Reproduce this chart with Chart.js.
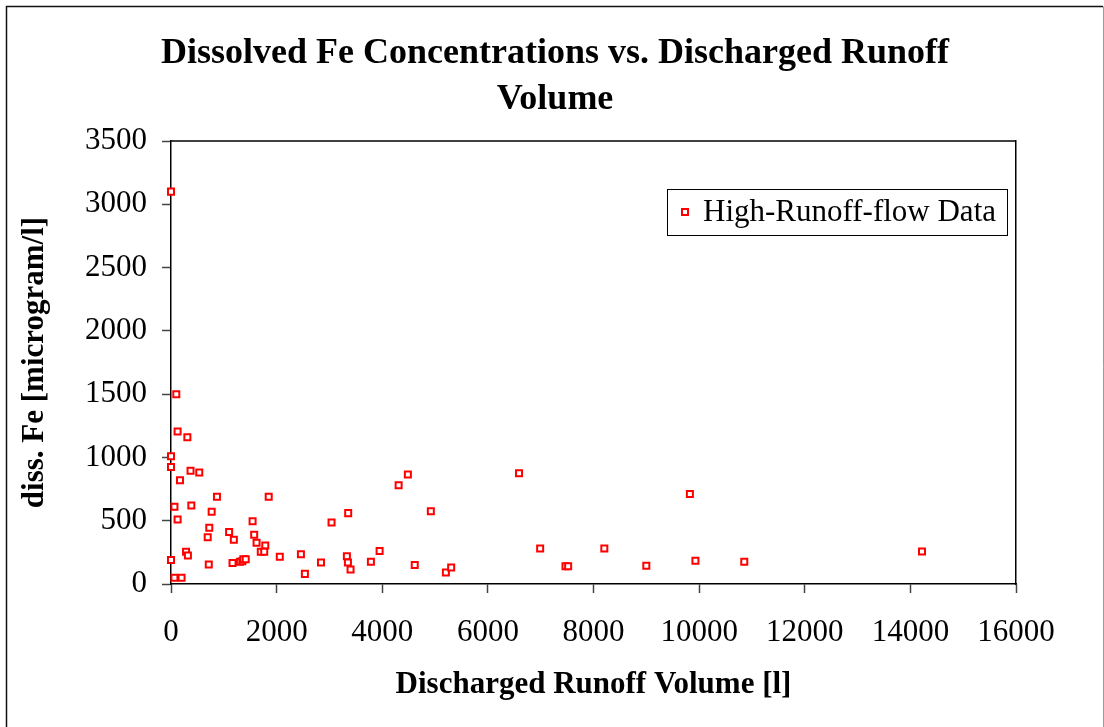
<!DOCTYPE html>
<html>
<head>
<meta charset="utf-8">
<title>Dissolved Fe Concentrations vs. Discharged Runoff Volume</title>
<script src="https://cdn.jsdelivr.net/npm/chart.js@4.4.1/dist/chart.umd.min.js"></script>
<style>
  html, body { margin: 0; padding: 0; background: #fff; }
  #wrap { position: relative; width: 1104px; height: 727px; }
</style>
</head>
<body>
<div id="wrap"><canvas id="feChart"></canvas></div>
<script>
// values
const runoffVolume = [
  0, 100, 125, 310, 0, 0, 370, 535, 170, 870,
  1850, 65, 385, 770, 125, 1545, 3355, 3040, 725, 695,
  1100, 1190, 1575, 1620, 1785, 1700, 1765, 285, 320, 0,
  715, 1165, 1305, 1350, 1370, 1415, 2060, 2460, 2535, 2840,
  3330, 3350, 3400, 3785, 3950, 4310, 65, 200, 4485, 4920,
  4615, 5205, 5305, 6590, 6990, 7470, 7520, 8205, 9000, 9825,
  9930, 10855, 14220
];
const dissFe = [
  3100, 1500, 1205, 1160, 1010, 925, 895, 880, 820, 690,
  690, 610, 620, 570, 510, 495, 560, 485, 445, 370,
  410, 350, 390, 325, 305, 255, 255, 255, 225, 190,
  155, 165, 175, 180, 195, 195, 215, 235, 80, 170,
  220, 170, 115, 175, 260, 780, 50, 50, 865, 575,
  150, 90, 130, 875, 280, 140, 140, 280, 145, 712,
  184, 176, 256
];
const seriesLabel = "High-Runoff-flow Data";
const titleLines = ["Dissolved Fe Concentrations vs. Discharged Runoff", "Volume"];
const xTitle = "Discharged Runoff Volume [l]";
const yTitle = "diss. Fe [microgram/l]";

const serif = "'Liberation Serif', 'Times New Roman', serif";
const red = "#ff0000";

// white background, outer chart frame and top edge of the plot box
const framePlugin = {
  id: "frame",
  beforeDraw(chart) {
    const ctx = chart.ctx;
    ctx.save();
    ctx.fillStyle = "#fff";
    ctx.fillRect(0, 0, chart.width, chart.height);
    ctx.lineWidth = 1.5;
    ctx.strokeStyle = "#111";
    ctx.beginPath();
    ctx.moveTo(6.5, chart.height);
    ctx.lineTo(6.5, 6.5);
    ctx.lineTo(1103, 6.5);
    ctx.stroke();
    ctx.lineWidth = 1;
    ctx.strokeStyle = "#9a9a9a";
    ctx.beginPath();
    ctx.moveTo(1103.5, 6.5);
    ctx.lineTo(1103.5, chart.height);
    ctx.stroke();
    ctx.restore();
  },
  beforeDatasetsDraw(chart) {
    const a = chart.chartArea;
    const ctx = chart.ctx;
    ctx.save();
    ctx.strokeStyle = "#000";
    ctx.lineWidth = 1.5;
    ctx.beginPath();
    ctx.moveTo(a.left, a.top);
    ctx.lineTo(a.right, a.top);
    ctx.stroke();
    ctx.restore();
  }
};

// Excel style legend box sitting inside the plot area, top right
const insideLegend = {
  id: "insideLegend",
  afterDraw(chart) {
    const ctx = chart.ctx;
    const ds = chart.data.datasets[0];
    const a = chart.chartArea;
    ctx.save();
    ctx.font = "31px " + serif;
    const tw = ctx.measureText(ds.label).width;
    const w = 36 + tw + 11;
    const h = 46;
    const left = a.right - 9 - w;
    const top = a.top + 48;
    ctx.strokeStyle = "#000";
    ctx.lineWidth = 1;
    ctx.strokeRect(Math.round(left) + 0.5, Math.round(top) + 0.5, Math.round(w), h);
    ctx.strokeStyle = ds.borderColor;
    ctx.fillStyle = ds.backgroundColor;
    ctx.lineWidth = ds.pointBorderWidth;
    Chart.helpers.drawPoint(ctx, {
      pointStyle: ds.pointStyle,
      radius: ds.pointRadius,
      borderWidth: ds.pointBorderWidth,
      rotation: 0
    }, left + 18, top + h / 2);
    ctx.fillStyle = "#000";
    ctx.textAlign = "left";
    ctx.textBaseline = "middle";
    ctx.fillText(ds.label, left + 36, top + h / 2 + 1);
    ctx.restore();
  }
};

const tickFont = { family: serif, size: 31 };
const axisTitleFont = { family: serif, size: 31, weight: "bold" };
const plain = (v) => String(v);

new Chart(document.getElementById("feChart"), {
  type: "scatter",
  data: {
    datasets: [{
      label: seriesLabel,
      data: runoffVolume.map((x, i) => ({ x, y: dissFe[i] })),
      pointStyle: "rect",
      pointRadius: 4.25,
      pointHoverRadius: 4.25,
      pointBorderWidth: 2,
      borderColor: red,
      backgroundColor: "#ffffff",
      clip: false
    }]
  },
  options: {
    responsive: true,
    maintainAspectRatio: false,
    devicePixelRatio: 1,
    animation: false,
    layout: { padding: { left: 10, right: 4, top: 10, bottom: 10 } },
    plugins: {
      legend: { display: false },
      tooltip: { enabled: false },
      title: {
        display: true,
        text: titleLines,
        color: "#000",
        font: { family: serif, size: 36, weight: "bold", lineHeight: 46 / 36 },
        padding: { top: 21, bottom: 18 }
      }
    },
    scales: {
      x: {
        type: "linear",
        position: "bottom",
        min: 0,
        max: 16000,
        ticks: { stepSize: 2000, font: tickFont, color: "#000", padding: 21, maxRotation: 0, autoSkip: false, callback: plain },
        grid: { drawOnChartArea: false, drawTicks: true, tickLength: 9, tickColor: "#444", tickWidth: 1.5 },
        border: { display: true, color: "#000", width: 1.5 },
        title: {
          display: true,
          text: xTitle,
          color: "#000",
          font: axisTitleFont,
          padding: { top: 0, bottom: 13 }
        },
        afterFit(s) { s.height = 133; }
      },
      y: {
        type: "linear",
        position: "left",
        min: 0,
        max: 3500,
        ticks: { stepSize: 500, font: tickFont, color: "#000", padding: 15, callback: plain },
        grid: { drawOnChartArea: false, drawTicks: true, tickLength: 9, tickColor: "#444", tickWidth: 1.5 },
        border: { display: true, color: "#000", width: 1.5 },
        title: {
          display: true,
          text: yTitle,
          color: "#000",
          font: axisTitleFont,
          padding: { top: 6, bottom: 0 }
        },
        afterFit(s) { s.width = 161; }
      },
      // empty right axis: only its border, gives the right edge of the plot box
      y2: {
        type: "linear",
        position: "right",
        min: 0,
        max: 1,
        ticks: { display: false },
        grid: { display: false },
        border: { display: true, color: "#000", width: 1.5 },
        afterFit(s) { s.width = 84; }
      }
    }
  },
  plugins: [framePlugin, insideLegend]
});
</script>
</body>
</html>
